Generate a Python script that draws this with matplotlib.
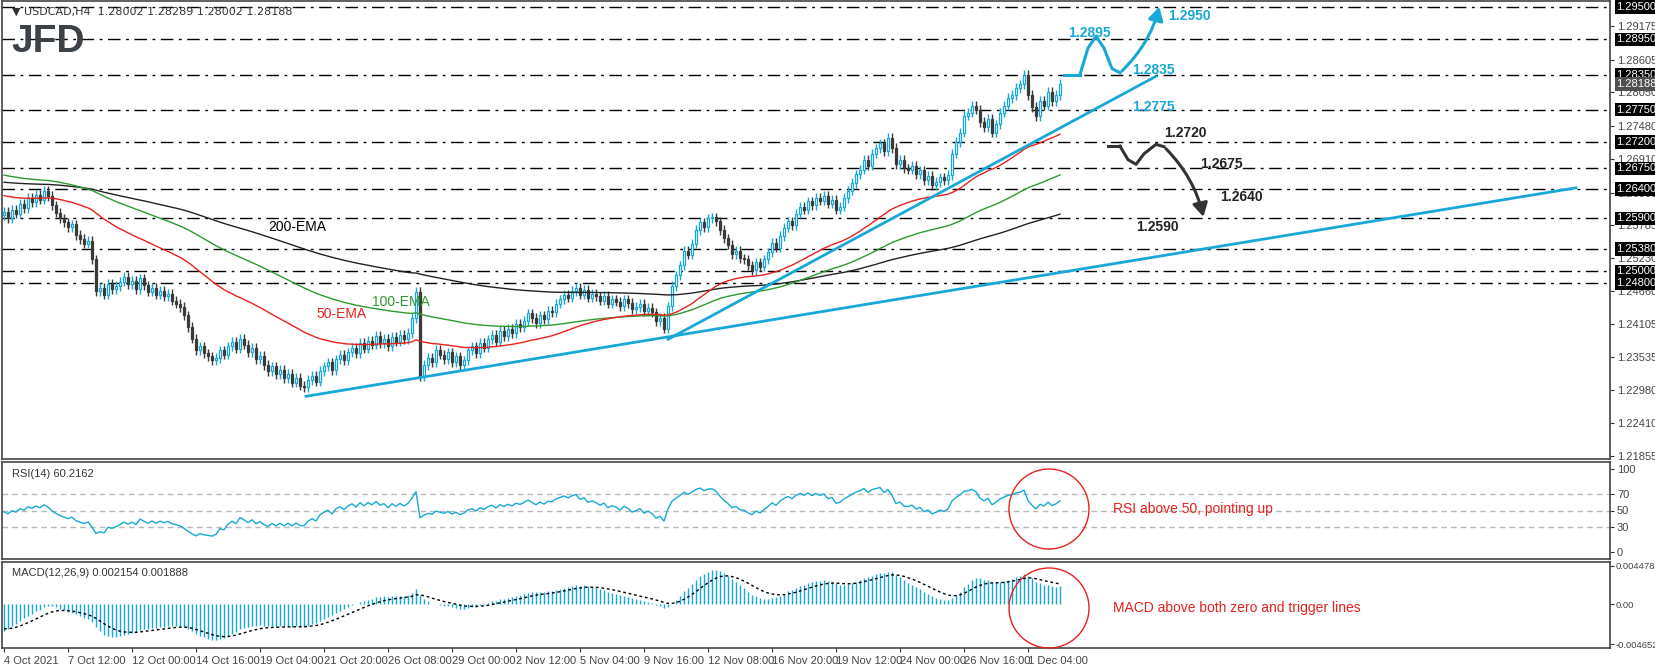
import numpy as np
import matplotlib
matplotlib.use("Agg")
import matplotlib.pyplot as plt
from matplotlib.patches import Ellipse, Rectangle

plt.rcParams["font.family"] = ["Liberation Sans", "DejaVu Sans"]

# H4 closes (one per candle)
closes = [
    1.2601, 1.2590, 1.2605, 1.2598, 1.2615, 1.2608, 1.2625, 1.2618, 1.2630, 1.2622,
    1.2637, 1.2628, 1.2612, 1.2600, 1.2590, 1.2583, 1.2575, 1.2580, 1.2562, 1.2555,
    1.2547, 1.2552, 1.2520, 1.2466, 1.2472, 1.2460, 1.2478, 1.2470, 1.2475, 1.2482,
    1.2490, 1.2478, 1.2484, 1.2470, 1.2488, 1.2476, 1.2465, 1.2472, 1.2460, 1.2466,
    1.2458, 1.2462, 1.2450, 1.2445, 1.2439, 1.2425, 1.2405, 1.2385, 1.2366, 1.2372,
    1.2360, 1.2355, 1.2348, 1.2352, 1.2365, 1.2358, 1.2372, 1.2380, 1.2368, 1.2385,
    1.2375, 1.2362, 1.2370, 1.2350, 1.2356, 1.2340, 1.2330, 1.2338, 1.2325, 1.2332,
    1.2318, 1.2325, 1.2310, 1.2318, 1.2305, 1.2303, 1.2315, 1.2322, 1.2312, 1.2330,
    1.2338, 1.2345, 1.2332, 1.2350, 1.2357, 1.2348, 1.2362, 1.2370, 1.2360, 1.2378,
    1.2368, 1.2382, 1.2375, 1.2390, 1.2378, 1.2385, 1.2372, 1.2388, 1.2380, 1.2392,
    1.2384, 1.2395, 1.2420, 1.2465, 1.2321, 1.2340, 1.2352, 1.2345, 1.2366, 1.2358,
    1.2350, 1.2362, 1.2345, 1.2355, 1.2340, 1.2348, 1.2365, 1.2372, 1.2360, 1.2378,
    1.2370, 1.2384, 1.2392, 1.2380, 1.2398, 1.2390, 1.2402, 1.2395, 1.2410, 1.2405,
    1.2415, 1.2428, 1.2420, 1.2412, 1.2425, 1.2418, 1.2432, 1.2430, 1.2445, 1.2452,
    1.2460, 1.2455, 1.2466, 1.2472, 1.2460, 1.2468, 1.2455, 1.2462, 1.2457, 1.2450,
    1.2458, 1.2445, 1.2452, 1.2448, 1.2440, 1.2452, 1.2446, 1.2435, 1.2439, 1.2445,
    1.2432, 1.2438, 1.2430, 1.2415, 1.2420, 1.2402, 1.2440, 1.2475, 1.2493, 1.2510,
    1.2535, 1.2528, 1.2547, 1.2570, 1.2583, 1.2575, 1.2590, 1.2592, 1.2585, 1.2570,
    1.2556, 1.2545, 1.2529, 1.2535, 1.2522, 1.2520, 1.2510, 1.2502, 1.2515, 1.2508,
    1.2520, 1.2532, 1.2548, 1.2540, 1.2560, 1.2574, 1.2585, 1.2578, 1.2598, 1.2610,
    1.2605, 1.2619, 1.2612, 1.2625, 1.2620, 1.2628, 1.2615, 1.2622, 1.2605, 1.2610,
    1.2625, 1.2637, 1.2650, 1.2665, 1.2673, 1.2690, 1.2680, 1.2700, 1.2709, 1.2718,
    1.2705, 1.2727, 1.2710, 1.2682, 1.2690, 1.2675, 1.2673, 1.2680, 1.2665, 1.2672,
    1.2655, 1.2662, 1.2646, 1.2652, 1.2660, 1.2655, 1.2664, 1.2700, 1.2720, 1.2736,
    1.2765, 1.2770, 1.2782, 1.2775, 1.2754, 1.2745, 1.2760, 1.2736, 1.2750, 1.2770,
    1.2782, 1.2795, 1.2800, 1.2812, 1.2818, 1.2835, 1.2800, 1.2780, 1.2764, 1.2790,
    1.2782, 1.2805, 1.2790, 1.2800, 1.28188,
]
first_open = 1.2595
wick = 0.0008

date_labels = ["4 Oct 2021", "7 Oct 12:00", "12 Oct 00:00", "14 Oct 16:00", "19 Oct 04:00",
               "21 Oct 20:00", "26 Oct 08:00", "29 Oct 00:00", "2 Nov 12:00", "5 Nov 04:00",
               "9 Nov 16:00", "12 Nov 08:00", "16 Nov 20:00", "19 Nov 12:00", "24 Nov 00:00",
               "26 Nov 16:00", "1 Dec 04:00"]
bars_per_label = 16

levels = [1.2950, 1.2895, 1.2835, 1.2775, 1.2720, 1.2675, 1.2640, 1.2590, 1.2538, 1.2500, 1.2480]
grey_ticks = [1.29175, 1.28605, 1.28050, 1.27480, 1.26910, 1.26335, 1.25785, 1.25230,
              1.24660, 1.24105, 1.23535, 1.22980, 1.22410, 1.21855]

# indicator seeds (values already running at the left edge)
ema_seeds = {50: 1.2630, 100: 1.2665, 200: 1.2652}
ema_colors = {50: "#e8211d", 100: "#2e9a2e", 200: "#222222"}
macd_seeds = (1.2585, 1.2620, -0.0028)
rsi_seed = (0.00080, 0.00090)

# trend lines (bar index, price)
long_trend = [(75.5, 1.2287), (393, 1.2642)]
short_trend = [(166, 1.2384), (288, 1.2832)]

CYAN = "#18a8d8"
FS = 8

c = np.array(closes)
n = len(c)
o = np.concatenate([[first_open], c[:-1]])
h = np.maximum(o, c) + wick
l = np.minimum(o, c) - wick
idx = np.arange(n)


def ema(values, period, seed):
    a = 2.0 / (period + 1)
    out = []
    prev = seed
    for v in values:
        prev = prev + a * (v - prev)
        out.append(prev)
    return np.array(out)


fig = plt.figure(figsize=(16.55, 6.69), dpi=100)
W, H = 1655, 669
L, R = 2, 1610


def axes_px(top, bottom):
    return fig.add_axes([L / W, 1 - bottom / H, (R - L) / W, (bottom - top) / H])


ax = axes_px(1, 459)
ax_rsi = axes_px(462, 559)
ax_macd = axes_px(562, 648)

xlim = (-0.5, -0.5 + (R - L) / 4)
for a in (ax, ax_rsi, ax_macd):
    a.set_xlim(*xlim)
    a.yaxis.tick_right()
    a.tick_params(axis="both", labelsize=FS, colors="#333333", length=3, pad=2, labelcolor="#444444")
    a.set_xticks([])
    for s in a.spines.values():
        s.set_color("#444444")
        s.set_linewidth(1.2)

# ---- main price panel
ymin, ymax = 1.21802, 1.29602
ax.set_ylim(ymin, ymax)
for lv in levels:
    ax.axhline(lv, color="black", lw=1, ls=(0, (9, 4, 2, 4)), zorder=1)

for i in idx:
    up = c[i] >= o[i]
    ax.vlines(i, l[i], h[i], color=CYAN if up else "#3a3a3a", lw=1, zorder=2)
    lo_, hi_ = min(o[i], c[i]), max(o[i], c[i])
    ax.add_patch(Rectangle((i - 0.3, lo_), 0.6, max(hi_ - lo_, 0.00004),
                           facecolor="white" if up else "#3a3a3a",
                           edgecolor=CYAN if up else "#3a3a3a", lw=0.9, zorder=3))

for p in (200, 100, 50):
    ax.plot(idx, ema(c, p, ema_seeds[p]), color=ema_colors[p], lw=1, zorder=4)

for tl in (long_trend, short_trend):
    ax.plot([tl[0][0], tl[1][0]], [tl[0][1], tl[1][1]], color=CYAN, lw=2, zorder=5)

ax.set_yticks(grey_ticks)
ax.set_yticklabels([f"{t:.5f}" for t in grey_ticks])
for lv in levels:
    ax.text(1.004, lv, f"{lv:.5f}", transform=ax.get_yaxis_transform(), fontsize=FS,
            color="white", va="center", ha="left", clip_on=False,
            bbox=dict(boxstyle="square,pad=0.15", fc="black", ec="none"))
ax.text(1.004, closes[-1], f"{closes[-1]:.5f}", transform=ax.get_yaxis_transform(), fontsize=FS,
        color="white", va="center", ha="left", clip_on=False,
        bbox=dict(boxstyle="square,pad=0.15", fc="#505050", ec="none"))

ax.text(0.006, 0.988, "\u25bc USDCAD,H4  1.28002 1.28289 1.28002 1.28188", transform=ax.transAxes,
        fontsize=FS, color="#333333", va="top", family=["DejaVu Sans"])
ax.text(0.006, 0.95, "JFD", transform=ax.transAxes, fontsize=28, fontweight="bold",
        color="#3d4148", va="top")

# EMA labels
ax.text(66, 1.2568, "200-EMA", fontsize=10, color="black")
ax.text(92, 1.2440, "100-EMA", fontsize=10, color="#2e9a2e")
ax.text(78, 1.2420, "50-EMA", fontsize=10, color="#e8211d")

# bullish scenario path
ax.plot([265, 269], [1.2835, 1.2835], color=CYAN, lw=2.2)
bx = np.array([269, 271, 273, 275, 277, 279])
by = np.array([1.2835, 1.2880, 1.2900, 1.2880, 1.2845, 1.2838])
ax.plot(bx, by, color=CYAN, lw=2.2)
ax.annotate("", xy=(289, 1.2955), xytext=(279, 1.2838),
            arrowprops=dict(arrowstyle="-|>,head_width=0.45,head_length=0.8", color=CYAN, lw=2.2,
                            connectionstyle="arc3,rad=0.15"))
for x_, y_, t in [(266, 1.2905, "1.2895"), (291, 1.2935, "1.2950"),
                  (282, 1.2842, "1.2835"), (282, 1.2780, "1.2775")]:
    ax.text(x_, y_, t, color=CYAN, fontsize=10, fontweight="bold", va="center")

# bearish scenario path
ax.plot([276, 279], [1.2713, 1.2713], color="#333333", lw=2.2)
sx = np.array([279, 281, 283, 285, 288, 290])
sy = np.array([1.2713, 1.2690, 1.2682, 1.2700, 1.2716, 1.2712])
ax.plot(sx, sy, color="#333333", lw=2.2)
ax.annotate("", xy=(300, 1.2588), xytext=(290, 1.2712),
            arrowprops=dict(arrowstyle="-|>,head_width=0.45,head_length=0.8", color="#333333", lw=2.2,
                            connectionstyle="arc3,rad=-0.15"))
for x_, y_, t in [(290, 1.2735, "1.2720"), (299, 1.2683, "1.2675"),
                  (304, 1.2626, "1.2640"), (283, 1.2575, "1.2590")]:
    ax.text(x_, y_, t, color="#222222", fontsize=10, fontweight="bold", va="center")

# ---- RSI
diff = np.diff(np.concatenate([[first_open], c]))
ag, al = rsi_seed
rsi = []
for d in diff:
    ag = (ag * 13 + max(d, 0)) / 14
    al = (al * 13 + max(-d, 0)) / 14
    rsi.append(100 - 100 / (1 + ag / al))
ax_rsi.set_ylim(-8, 108)
for lv in (30, 50, 70):
    ax_rsi.axhline(lv, color="#b8b8b8", lw=1, ls=(0, (4, 3)))
ax_rsi.plot(idx, rsi, color=CYAN, lw=1)
ax_rsi.set_yticks([0, 30, 50, 70, 100])
ax_rsi.text(0.006, 0.93, "RSI(14) 60.2162", transform=ax_rsi.transAxes, fontsize=FS,
            color="#333333", va="top")

# ---- MACD
e12 = ema(c, 12, macd_seeds[0])
e26 = ema(c, 26, macd_seeds[1])
macd = e12 - e26
sig = ema(macd, 9, macd_seeds[2])
ax_macd.set_ylim(-0.0051, 0.0049)
ax_macd.vlines(idx, 0, macd, color=CYAN, lw=1)
ax_macd.plot(idx, sig, color="black", lw=1, ls=(0, (2, 2)))
ax_macd.set_yticks([0.004478, 0.0, -0.004652])
ax_macd.set_yticklabels(["0.004478", "0.00", "-0.004652"])
ax_macd.tick_params(axis="y", labelsize=6.8, pad=1)
ax_macd.text(0.006, 0.93, "MACD(12,26,9) 0.002154 0.001888", transform=ax_macd.transAxes,
             fontsize=FS, color="#333333", va="top")

# date axis
tick_pos = [i * bars_per_label for i in range(len(date_labels))]
ax_macd.set_xticks(tick_pos)
ax_macd.set_xticklabels(date_labels, ha="left")
ax_macd.tick_params(axis="x", length=3, pad=3)

# circled annotations (figure pixels)
for cy, text in [(509, "RSI above 50, pointing up"), (608, "MACD above both zero and trigger lines")]:
    fig.add_artist(Ellipse((1049 / W, 1 - cy / H), 80 / W, 80 / H, transform=fig.transFigure,
                           fill=False, ec="#e8211d", lw=1))
    fig.text(1113 / W, 1 - cy / H, text, color="#e8211d", fontsize=10, va="center")

fig.savefig("out.png", dpi=100, facecolor="white")
